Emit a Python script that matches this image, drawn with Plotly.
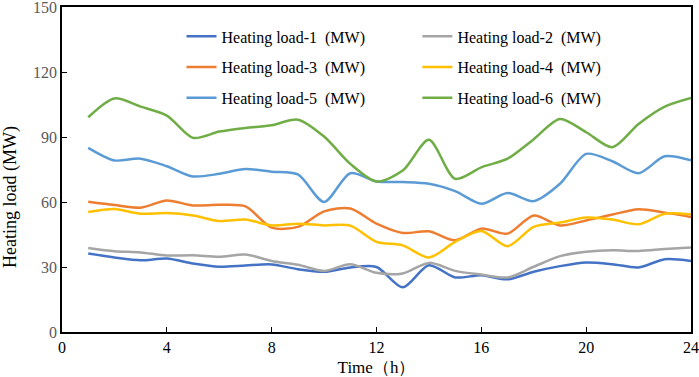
import plotly.graph_objects as go

hours = list(range(1, 25))
load1 = [36.2, 34.4, 33.1, 33.9, 31.6, 30.1, 30.7, 31.2, 29.0, 27.8, 29.8, 30.0,
         20.6, 30.8, 25.2, 26.2, 24.3, 27.8, 30.4, 32.1, 31.3, 29.8, 33.6, 32.8]
load2 = [38.8, 37.3, 36.7, 35.3, 35.4, 34.7, 35.8, 32.8, 31.0, 28.2, 31.3, 27.3,
         27.0, 31.9, 28.2, 26.5, 25.2, 30.1, 35.0, 37.0, 37.7, 37.4, 38.3, 39.0]
load3 = [60.1, 58.6, 57.4, 60.7, 58.4, 58.7, 58.0, 48.2, 48.5, 55.7, 57.0, 50.0,
         45.7, 46.5, 42.3, 47.7, 45.4, 53.8, 49.2, 51.5, 54.2, 56.7, 55.1, 53.1]
load4 = [55.4, 56.8, 54.6, 54.9, 53.8, 51.2, 51.9, 49.2, 50.0, 49.2, 49.1, 41.6,
         40.0, 34.4, 41.6, 46.6, 39.6, 48.5, 50.5, 52.8, 51.9, 49.7, 54.6, 54.3]
load5 = [85.0, 79.2, 80.0, 76.5, 71.8, 73.0, 75.2, 74.0, 72.7, 60.0, 73.3, 69.5,
         69.2, 68.4, 65.0, 59.2, 64.1, 60.4, 68.4, 82.2, 78.8, 73.3, 81.1, 79.2]
load6 = [99.1, 107.8, 104.0, 99.9, 89.6, 92.5, 94.2, 95.4, 98.0, 90.2, 77.6, 69.5,
         74.5, 88.7, 70.7, 76.0, 80.0, 89.0, 98.3, 92.2, 85.3, 96.0, 104.0, 108.0]

names = ["Heating load-1\u00a0\u00a0(MW)", "Heating load-2\u00a0\u00a0(MW)",
         "Heating load-3\u00a0\u00a0(MW)", "Heating load-4\u00a0\u00a0(MW)",
         "Heating load-5\u00a0\u00a0(MW)", "Heating load-6\u00a0\u00a0(MW)"]
colors = ["#4472C4", "#A5A5A5", "#ED7D31", "#FFC000", "#5B9BD5", "#70AD47"]
series = [load1, load2, load3, load4, load5, load6]

FONT = "Liberation Serif, Times New Roman, serif"

fig = go.Figure()
for i, (nm, col, ys) in enumerate(zip(names, colors, series)):
    fig.add_trace(go.Scatter(
        x=hours, y=ys, name=nm, mode="lines",
        line=dict(color=col, width=2.5, shape="spline", smoothing=0.8),
        legend="legend" if i % 2 == 0 else "legend2",
        legendgroup=f"g{i}",
    ))

legend_common = dict(
    bgcolor="rgba(0,0,0,0)", borderwidth=0,
    font=dict(family=FONT, size=16, color="#000000"),
    orientation="v", tracegroupgap=7, yanchor="top", xanchor="left",
)

fig.update_layout(
    width=699, height=377,
    margin=dict(l=62, r=8, t=7, b=45, autoexpand=False),
    paper_bgcolor="white", plot_bgcolor="white",
    font=dict(family=FONT, color="#000000"),
    legend=dict(x=0.19, y=0.962, **legend_common),
    legend2=dict(x=0.565, y=0.962, **legend_common),
    xaxis=dict(
        range=[0, 24], tickvals=[0, 4, 8, 12, 16, 20, 24],
        ticks="inside", ticklen=5, tickcolor="#000000",
        showline=True, linecolor="#000000", linewidth=1.5, mirror=True,
        showgrid=False, zeroline=False, automargin=False,
        tickfont=dict(family=FONT, size=16, color="#000000"),
        title=dict(text="Time（h）", font=dict(family=FONT, size=17, color="#000000"), standoff=6),
    ),
    yaxis=dict(
        range=[0, 150], tickvals=[0, 30, 60, 90, 120, 150],
        ticks="inside", ticklen=5, tickcolor="#000000",
        showline=True, linecolor="#000000", linewidth=1.5, mirror=True,
        showgrid=False, zeroline=False, automargin=False,
        ticklabeloverflow="allow",
        tickfont=dict(family=FONT, size=16, color="#595959"),
    ),
    annotations=[dict(
        text="Heating load (MW)", textangle=-90, showarrow=False,
        xref="paper", yref="paper", x=-(62 - 11) / 629, y=(332 - 197) / 325,
        xanchor="center", yanchor="middle",
        font=dict(family=FONT, size=18, color="#000000"),
    )],
)

fig.write_html("out.html", config={"displayModeBar": False},
               post_script="document.body.style.margin='0';")
